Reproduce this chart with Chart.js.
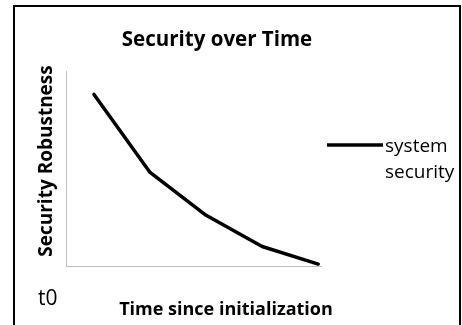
<!DOCTYPE html>
<html>
<head>
<meta charset="utf-8">
<script src="https://cdn.jsdelivr.net/npm/chart.js@4.4.0/dist/chart.umd.min.js"></script>
<style>
  html, body { margin: 0; padding: 0; background: #fff; }
  #wrap { width: 462px; height: 325px; position: relative; }
</style>
</head>
<body>
<div id="wrap"><canvas id="chart"></canvas></div>
<script>
// values (arbitrary units, no tick labels shown)
const timeSteps = [1, 2, 3, 4, 5];
const robustness = [88, 48, 26, 10, 1];
const seriesName = 'system security';
const legendLines = ['system', 'security'];
const chartTitle = 'Security over Time';
const xTitle = 'Time since initialization';
const yTitle = 'Security Robustness';
const startLabel = 't0';

const FONT = '"Open Sans", Lato, sans-serif';

// frame, titles (placed like the original, off the plot centre), "t0" and legend
const extras = {
    id: 'extras',
    beforeDraw(chart) {
        const ctx = chart.ctx;
        ctx.save();
        ctx.fillStyle = '#fff';
        ctx.fillRect(0, 0, chart.width, chart.height);
        ctx.strokeStyle = '#000';
        ctx.lineWidth = 2;
        ctx.strokeRect(14, 6, 446, 340);
        ctx.restore();
    },
    afterDraw(chart) {
        const ctx = chart.ctx, area = chart.chartArea;
        ctx.save();
        ctx.fillStyle = '#000';
        ctx.textBaseline = 'alphabetic';

        ctx.textAlign = 'center';
        ctx.font = 'bold 20.5px ' + FONT;
        ctx.fillText(chartTitle, 217, 46);

        ctx.font = 'bold 18px ' + FONT;
        ctx.fillText(xTitle, 226, 315);

        ctx.save();
        ctx.translate(52, 161);
        ctx.rotate(-Math.PI / 2);
        ctx.font = 'bold 19px ' + FONT;
        ctx.fillText(yTitle, 0, 0);
        ctx.restore();

        ctx.textAlign = 'left';
        ctx.font = '21px ' + FONT;
        ctx.fillText(startLabel, 38, 305);

        // legend
        const lx = area.right + 6, ly = 145;
        ctx.strokeStyle = '#000';
        ctx.lineWidth = 3.5;
        ctx.beginPath();
        ctx.moveTo(lx, ly);
        ctx.lineTo(lx + 56, ly);
        ctx.stroke();
        ctx.font = '19px ' + FONT;
        legendLines.forEach((t, i) => ctx.fillText(t, lx + 58, 152 + i * 26));
        ctx.restore();
    }
};

new Chart(document.getElementById('chart'), {
    type: 'line',
    data: {
        datasets: [{
            label: seriesName,
            data: timeSteps.map((t, i) => ({ x: t, y: robustness[i] })),
            borderColor: '#000',
            borderWidth: 3.5,
            pointRadius: 0,
            tension: 0,
            borderJoinStyle: 'round',
            borderCapStyle: 'round'
        }]
    },
    options: {
        responsive: true,
        maintainAspectRatio: false,
        animation: false,
        layout: { padding: { left: 0, right: 141, top: 71, bottom: 0 } },
        plugins: {
            legend: { display: false },
            tooltip: { enabled: false },
            title: { display: false }
        },
        scales: {
            x: {
                type: 'linear',
                min: 0.5,
                max: 5.05,
                grid: { display: false },
                border: { display: true, color: '#bfbfbf', width: 1 },
                ticks: { display: false },
                afterFit(scale) { scale.height = 59; }
            },
            y: {
                min: 0,
                max: 100,
                grid: { display: false },
                border: { display: true, color: '#bfbfbf', width: 1 },
                ticks: { display: false },
                afterFit(scale) { scale.width = 66; }
            }
        }
    },
    plugins: [extras]
});
</script>
</body>
</html>
